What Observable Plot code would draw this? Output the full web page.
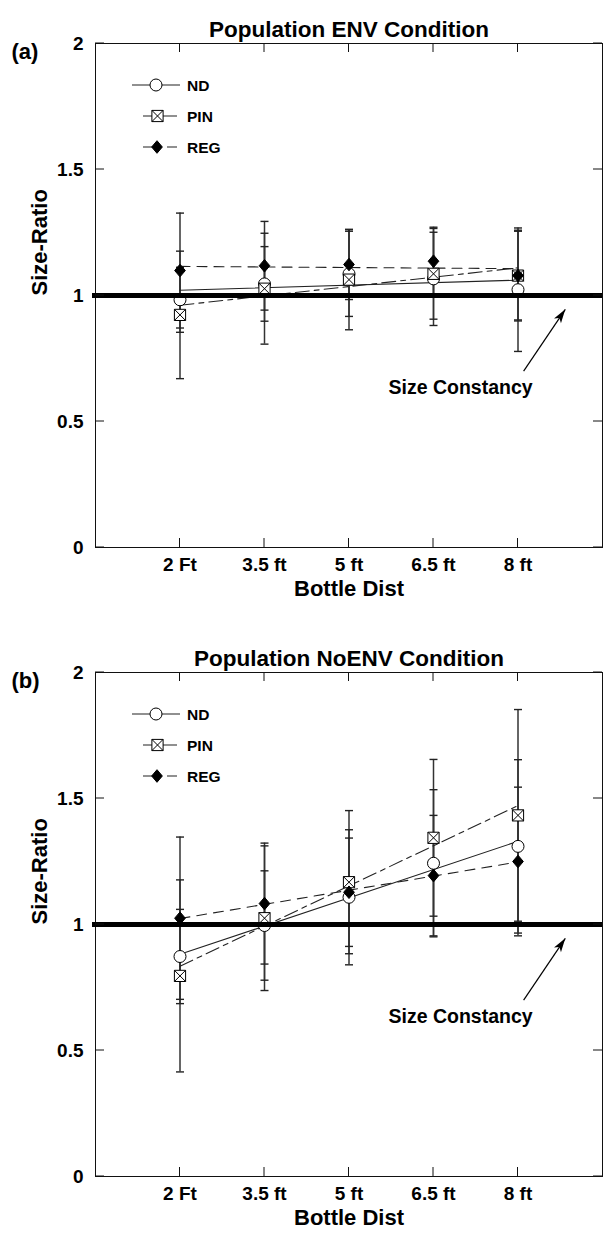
<!DOCTYPE html>
<html>
<head>
<meta charset="utf-8">
<script src="https://cdn.jsdelivr.net/npm/d3@7"></script>
<script src="https://cdn.jsdelivr.net/npm/@observablehq/plot@0.6"></script>
<style>
html, body { margin: 0; padding: 0; background: #fff; }
#charts svg { display: block; }
</style>
</head>
<body>
<div id="charts"></div>
<script>
// ---------- data ----------
const distances = [2, 3.5, 5, 6.5, 8];
const distLabels = ["2 Ft", "3.5 ft", "5 ft", "6.5 ft", "8 ft"];
const yTicks = [0, 0.5, 1, 1.5, 2];
const yTickLabels = ["0", "0.5", "1", "1.5", "2"];
const seriesNames = ["ND", "PIN", "REG"];
const xDomain = [0.5, 9.5];
const yDomain = [0, 2];
const constancyLevel = [1];
const panelTags = ["(a)", "(b)"];
const panelTitles = ["Population ENV Condition", "Population NoENV Condition"];
const xLabel = "Bottle Dist";
const yLabel = "Size-Ratio";
const noteLabel = "Size Constancy";
const noteText = [{x: 6.98, y: 0.632}];
const noteArrow = [{x1: 8.10, y1: 0.700, x2: 8.84, y2: 0.945}];

// Panel (a): ENV condition
const envND = [0.983, 1.046, 1.086, 1.066, 1.023];
const envNDErr = [0.129, 0.148, 0.169, 0.185, 0.245];
const envPIN = [0.923, 1.027, 1.063, 1.086, 1.079];
const envPINErr = [0.253, 0.220, 0.199, 0.180, 0.176];
const envREG = [1.099, 1.118, 1.123, 1.136, 1.079];
const envREGErr = [0.228, 0.176, 0.139, 0.135, 0.180];

// Panel (b): NoENV condition
const noND = [0.873, 0.996, 1.108, 1.243, 1.310];
const noNDErr = [0.187, 0.217, 0.268, 0.292, 0.344];
const noPIN = [0.796, 1.025, 1.168, 1.344, 1.433];
const noPINErr = [0.381, 0.287, 0.284, 0.311, 0.420];
const noREG = [1.025, 1.083, 1.128, 1.194, 1.250];
const noREGErr = [0.322, 0.240, 0.215, 0.239, 0.295];

// ---------- styling ----------
const FONT = "'Liberation Sans', Arial, Helvetica, sans-serif";
const boxX = {draw(ctx, size) {
  const r = Math.sqrt(size / Math.PI);
  ctx.moveTo(-r, -r); ctx.lineTo(r, -r); ctx.lineTo(r, r); ctx.lineTo(-r, r); ctx.closePath();
  ctx.moveTo(-r, -r); ctx.lineTo(r, r); ctx.moveTo(r, -r); ctx.lineTo(-r, r);
}};
const diamond = {draw(ctx, size) {
  const r = Math.sqrt(size / Math.PI);
  ctx.moveTo(0, -r); ctx.lineTo(0.85 * r, 0); ctx.lineTo(0, r); ctx.lineTo(-0.85 * r, 0); ctx.closePath();
}};
const circleSym = {draw(ctx, size) {
  const r = Math.sqrt(size / Math.PI);
  ctx.moveTo(r, 0); ctx.arc(0, 0, r, 0, 2 * Math.PI);
}};
const capSym = {draw(ctx) { ctx.moveTo(-4, 0); ctx.lineTo(4, 0); }};
const arrowHead = {draw(ctx) {
  ctx.moveTo(0, 0); ctx.lineTo(4.2, 14); ctx.lineTo(0, 10.5); ctx.lineTo(-4.2, 14); ctx.closePath();
}};
const style = {
  ND:  {symbol: circleSym, r: 6.0, fill: "white", dash: null, legendDash: null, lx: [37, 85], mx: 61},
  PIN: {symbol: boxX, r: 5.6, fill: "white", dash: "14,5,5,5", legendDash: null, lx: [48, 82], mx: 62.5},
  REG: {symbol: diamond, r: 6.3, fill: "black", dash: "10,7", legendDash: "17,7,12", lx: [48, 82], mx: 62}
};

const W = 603, MT = 43, ML = 95, MR = 1, PH = 504;

function rowsFor(vals, errs) {
  return seriesNames.flatMap((s) => distances.map((d, i) => ({series: s, dist: d, value: vals[s][i], err: errs[s][i]})));
}

function panel(k, rows, height) {
  const kx = (W - ML - MR) / (xDomain[1] - xDomain[0]);
  const ky = PH / (yDomain[1] - yDomain[0]);
  const a = noteArrow[0];
  const angle = Math.atan2((a.x2 - a.x1) * kx, (a.y2 - a.y1) * ky) * 180 / Math.PI;
  const marks = [
    Plot.frame({stroke: "#111", strokeWidth: 1}),
    Plot.axisY({ticks: yTicks, tickSize: 0, tickPadding: 12, tickFormat: (d) => yTickLabels[yTicks.indexOf(d)], fontSize: 19, fontWeight: "bold"}),
    Plot.axisX({ticks: distances, tickSize: 0, tickPadding: 10, tickFormat: (d) => distLabels[distances.indexOf(d)], fontSize: 19, fontWeight: "bold"}),
    Plot.text([xLabel], {frameAnchor: "bottom", dy: 48, fontSize: 22, fontWeight: "bold"}),
    Plot.text([yLabel], {frameAnchor: "left", dx: -56, rotate: -90, fontSize: 22, fontWeight: "bold"}),
    Plot.text([panelTitles[k]], {frameAnchor: "top", dy: -22, fontSize: 22.5, fontWeight: "bold"}),
    Plot.text([panelTags[k]], {frameAnchor: "top-left", dx: -84, dy: 0, textAnchor: "start", fontSize: 22, fontWeight: "bold"}),
    // error bars
    Plot.ruleX(rows, {x: "dist", y1: (d) => d.value - d.err, y2: (d) => d.value + d.err, stroke: "#333", strokeWidth: 1.5}),
    Plot.dot(rows, {x: "dist", y: (d) => d.value - d.err, symbol: capSym, stroke: "#222", strokeWidth: 1.4, r: 3}),
    Plot.dot(rows, {x: "dist", y: (d) => d.value + d.err, symbol: capSym, stroke: "#222", strokeWidth: 1.4, r: 3}),
  ];
  // regression lines
  for (const s of seriesNames) {
    marks.push(Plot.linearRegressionY(rows.filter((d) => d.series === s), {x: "dist", y: "value", ci: 0, stroke: "#222", strokeWidth: 1.1, strokeDasharray: style[s].dash}));
  }
  // markers
  for (const s of seriesNames) {
    marks.push(Plot.dot(rows.filter((d) => d.series === s), {x: "dist", y: "value", symbol: style[s].symbol, r: style[s].r, fill: style[s].fill, stroke: "black", strokeWidth: 1}));
  }
  marks.push(
    Plot.ruleY(constancyLevel, {stroke: "black", strokeWidth: 5, insetLeft: -3}),
    Plot.text(noteText, {x: "x", y: "y", text: () => noteLabel, fontSize: 19.5, fontWeight: "bold"}),
    Plot.link(noteArrow, {x1: "x1", y1: "y1", x2: "x2", y2: "y2", stroke: "black", strokeWidth: 1.2}),
    Plot.dot(noteArrow, {x: "x2", y: "y2", symbol: arrowHead, rotate: angle, fill: "black", stroke: "none", r: 5})
  );
  const chart = Plot.plot({
    width: W, height, marginTop: MT, marginLeft: ML, marginRight: MR, marginBottom: height - MT - PH,
    x: {domain: xDomain, axis: null},
    y: {domain: yDomain, axis: null},
    style: {fontFamily: FONT, color: "black", background: "white", overflow: "visible"},
    marks
  });
  // inward ticks on all four sides, placed through the plot's scales
  const sx = chart.scale("x"), sy = chart.scale("y");
  const X0 = sx.apply(xDomain[0]), X1 = sx.apply(xDomain[1]);
  const Y0 = sy.apply(yDomain[0]), Y1 = sy.apply(yDomain[1]);
  const T = 9;
  const svg = d3.select(chart);
  const gt = svg.append("g").attr("stroke", "#111").attr("stroke-width", 1);
  for (const d of distances) {
    const px = sx.apply(d);
    gt.append("line").attr("x1", px).attr("x2", px).attr("y1", Y0).attr("y2", Y0 - T);
    gt.append("line").attr("x1", px).attr("x2", px).attr("y1", Y1).attr("y2", Y1 + T);
  }
  for (const v of yTicks) {
    const py = sy.apply(v);
    gt.append("line").attr("x1", X0).attr("x2", X0 + T).attr("y1", py).attr("y2", py);
    gt.append("line").attr("x1", X1).attr("x2", X1 - T).attr("y1", py).attr("y2", py);
  }
  // legend
  const gl = svg.append("g").attr("font-family", FONT).attr("font-weight", "bold").attr("font-size", 15.5).attr("text-anchor", "start");
  seriesNames.forEach((s, i) => {
    const st = style[s];
    const y = Y1 + 42 + i * 31;
    gl.append("line").attr("x1", X0 + st.lx[0]).attr("x2", X0 + st.lx[1]).attr("y1", y).attr("y2", y)
      .attr("stroke", "#222").attr("stroke-width", 1.1).attr("stroke-dasharray", st.legendDash);
    const size = Math.PI * st.r * st.r;
    gl.append("path").attr("d", d3.symbol(st.symbol, size)()).attr("transform", `translate(${X0 + st.mx},${y})`)
      .attr("fill", st.fill).attr("stroke", "black").attr("stroke-width", 1);
    gl.append("text").attr("x", X0 + 92).attr("y", y).attr("dy", "0.36em").attr("text-anchor", "start").text(s);
  });
  return chart;
}

const envRows = rowsFor({ND: envND, PIN: envPIN, REG: envREG}, {ND: envNDErr, PIN: envPINErr, REG: envREGErr});
const noRows = rowsFor({ND: noND, PIN: noPIN, REG: noREG}, {ND: noNDErr, PIN: noPINErr, REG: noREGErr});
const host = document.getElementById("charts");
host.appendChild(panel(0, envRows, 629));
host.appendChild(panel(1, noRows, 605));
</script>
</body>
</html>
